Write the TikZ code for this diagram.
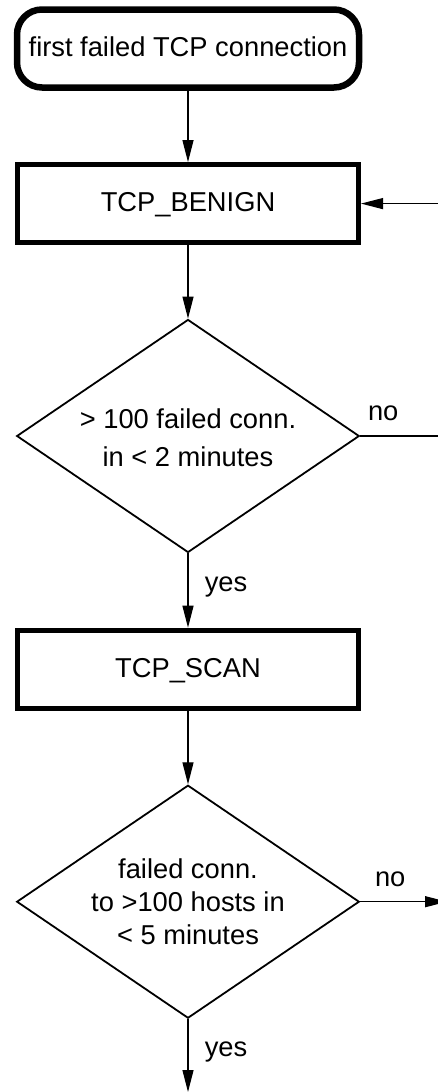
\documentclass[tikz,border=0pt]{standalone}
\usepackage{fontspec}
\setmainfont{Liberation Sans}
\usetikzlibrary{arrows.meta,shapes.geometric,calc}
\begin{document}
\begin{tikzpicture}[x=1pt,y=-1pt,
  every node/.style={font=\fontsize{27.3}{33}\selectfont},
  startbox/.style={draw, line width=6.5pt, rounded corners=25pt,
    minimum width=342pt, minimum height=78pt, inner sep=0pt,
    text height=19.5pt, text depth=3.5pt},
  statebox/.style={draw, line width=5pt, minimum width=341pt,
    minimum height=78pt, inner sep=0pt,
    text height=19.5pt, text depth=3.5pt},
  decision/.style={draw, diamond, line width=1.8pt, aspect=1.47,
    minimum width=342.6pt, minimum height=233pt, inner sep=0pt},
  dtext/.style={align=center, font=\fontsize{27.3}{#1}\selectfont},
  flow/.style={line width=1.2pt, -{Triangle[length=22pt,width=11pt]}},
  answer/.style={anchor=base, inner sep=0pt}
]
\useasboundingbox (0,0) rectangle (438,1092);
\clip (0,0) rectangle (438,1092);

% states and decisions
\node[startbox] (start) at (188,48.5) {first failed TCP connection};
\node[statebox] (benign) at (188,203.6) {TCP\_BENIGN};
\node[decision,
  label={[dtext=38.4, yshift=-1.5pt]center:{> 100 failed conn.\\in < 2 minutes}}]
  (d1) at (188,436) {};
\node[statebox] (scan) at (188,669.2) {TCP\_SCAN};
\node[decision,
  label={[dtext=33.4]center:{failed conn.\\to >100 hosts in\\< 5 minutes}}]
  (d2) at (188,901.7) {};

% loose ends leaving the frame
\coordinate (loopx) at (470,0);
\coordinate (outR) at (447,0);
\coordinate (outB) at (188,1092);

% connectors
\draw[flow] (start.south) -- (benign.north);
\draw[flow] (benign.south) -- (d1.north);
\draw[flow] (d1.south) -- (scan.north);
\draw[flow] (d1.east) -- (d1.east -| loopx) |- (benign.east);
\draw[flow] (scan.south) -- (d2.north);
\draw[flow] (d2.east) -- (d2.east -| outR);
\draw[flow] (d2.south) -- (d2.south |- outB);

% branch labels
\node[answer] (no1) at ($(d1.east)+(23,-16)$) {no};
\node[answer] (yes1) at ($(d1.south)+(38,38)$) {yes};
\node[answer] (no2) at ($(d2.east)+(30,-15)$) {no};
\node[answer] (yes2) at ($(d2.south)+(38,37.5)$) {yes};
\end{tikzpicture}
\end{document}
